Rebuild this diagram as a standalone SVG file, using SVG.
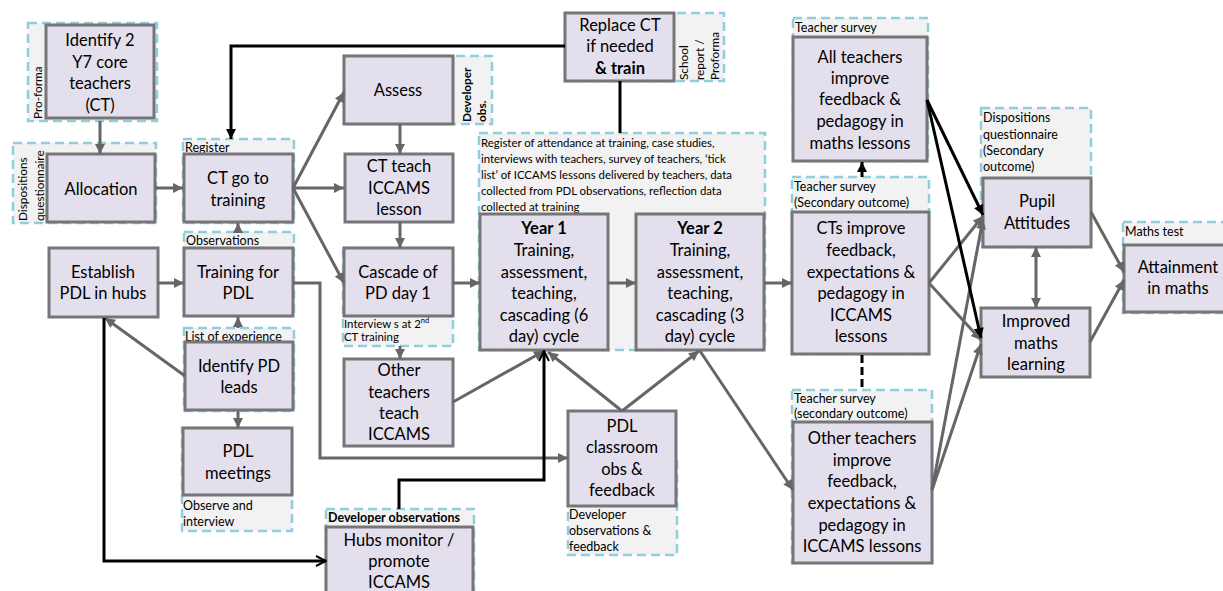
<svg xmlns="http://www.w3.org/2000/svg" width="1223" height="591" viewBox="0 0 1223 591">
<style>
.box{fill:#e4dfec;stroke:#767676;stroke-width:3}
.reg{fill:#f2f2f2;stroke:#92cddc;stroke-width:2.5;stroke-dasharray:9 5}
.t{font-family:Lato,"Liberation Sans",sans-serif;font-size:16.5px;fill:#000;text-anchor:middle}
.s{font-family:Lato,"Liberation Sans",sans-serif;font-size:12.5px;fill:#000}
.v{font-family:Lato,"Liberation Sans",sans-serif;font-size:11.8px;fill:#000}
.n{font-family:Lato,"Liberation Sans",sans-serif;font-size:11.4px;fill:#000}
.b{font-weight:bold}
.c{stroke:#666;stroke-width:3;fill:none}
.k{stroke:#000;stroke-width:3;fill:none}
</style>
<defs>
<marker id="ag" viewBox="0 0 10 10" refX="10" refY="5" markerWidth="11" markerHeight="10" markerUnits="userSpaceOnUse" orient="auto-start-reverse"><path d="M0,0 L10,5 L0,10 z" fill="#666"/></marker>
<marker id="ak" viewBox="0 0 10 10" refX="10" refY="5" markerWidth="11" markerHeight="10" markerUnits="userSpaceOnUse" orient="auto"><path d="M0,0 L10,5 L0,10 z" fill="#000"/></marker>
<marker id="ao" viewBox="0 0 12 12" refX="11" refY="6" markerWidth="12" markerHeight="12" markerUnits="userSpaceOnUse" orient="auto"><path d="M1,1 L11,6 L1,11" fill="none" stroke="#000" stroke-width="2"/></marker>
</defs>
<rect width="1223" height="591" fill="#fff"/>

<g id="identify-ct">
<rect class="reg" x="28" y="23" width="129" height="98"/>
<text class="v" transform="translate(42,119) rotate(-90)">Pro-forma</text>
<rect class="box" x="46" y="25" width="108" height="93"/>
<text class="t" x="100" y="46">Identify 2</text>
<text class="t" x="100" y="68">Y7 core</text>
<text class="t" x="100" y="89">teachers</text>
<text class="t" x="100" y="111">(CT)</text>
</g>

<g id="allocation">
<rect class="reg" x="13" y="143" width="143" height="80"/>
<text class="v" transform="translate(27,221) rotate(-90)">Dispositions</text>
<text class="v" transform="translate(44,221) rotate(-90)">questionnaire</text>
<rect class="box" x="47" y="154" width="108" height="68"/>
<text class="t" x="101" y="195">Allocation</text>
</g>

<g id="ct-training">
<rect class="reg" x="183" y="139" width="111" height="84"/>
<text class="s" x="185" y="152">Register</text>
<rect class="box" x="184" y="154" width="109" height="68"/>
<text class="t" x="238" y="184">CT go to</text>
<text class="t" x="238" y="206">training</text>
</g>

<g id="training-pdl">
<rect class="reg" x="184" y="232" width="110" height="84"/>
<text class="s" x="186" y="245">Observations</text>
<rect class="box" x="184" y="248" width="109" height="68"/>
<text class="t" x="238" y="278">Training for</text>
<text class="t" x="238" y="299">PDL</text>
</g>

<g id="establish-pdl">
<rect class="box" x="49" y="248" width="109" height="69"/>
<text class="t" x="103" y="278">Establish</text>
<text class="t" x="103" y="299">PDL in hubs</text>
</g>

<g id="identify-pd">
<rect class="reg" x="184" y="328" width="110" height="83"/>
<text class="s" x="185" y="341">List of experience</text>
<rect class="box" x="185" y="342" width="108" height="68"/>
<text class="t" x="239" y="372">Identify PD</text>
<text class="t" x="239" y="393">leads</text>
</g>

<g id="pdl-meetings">
<rect class="reg" x="182" y="428" width="110" height="103"/>
<rect class="box" x="183" y="428" width="109" height="67"/>
<text class="t" x="238" y="457">PDL</text>
<text class="t" x="238" y="479">meetings</text>
<text class="s" x="183" y="510">Observe and</text>
<text class="s" x="183" y="526">interview</text>
</g>

<g id="assess">
<rect class="reg" x="344" y="56" width="148" height="68"/>
<text class="v b" transform="translate(471,122) rotate(-90)">Developer</text>
<text class="v b" transform="translate(486,122) rotate(-90)">obs.</text>
<rect class="box" x="344" y="56" width="109" height="68"/>
<text class="t" x="398" y="96">Assess</text>
</g>

<g id="ct-teach">
<rect class="box" x="345" y="154" width="108" height="68"/>
<text class="t" x="399" y="172">CT teach</text>
<text class="t" x="399" y="194">ICCAMS</text>
<text class="t" x="399" y="215">lesson</text>
</g>

<g id="cascade">
<rect class="reg" x="343" y="248" width="110" height="98"/>
<rect class="box" x="344" y="248" width="109" height="68"/>
<text class="t" x="398" y="278">Cascade of</text>
<text class="t" x="398" y="299">PD day 1</text>
<text class="n" x="344" y="328">Interview s at 2<tspan font-size="7.5" dy="-5">nd</tspan></text>
<text class="n" x="344" y="341">CT training</text>
</g>

<g id="other-teach">
<rect class="box" x="344" y="359" width="109" height="87"/>
<text class="t" x="399" y="376">Other</text>
<text class="t" x="399" y="398">teachers</text>
<text class="t" x="399" y="419">teach</text>
<text class="t" x="399" y="440">ICCAMS</text>
</g>

<g id="data-note">
<rect class="reg" x="479" y="133" width="286" height="217"/>
<text class="n" x="481" y="147">Register of attendance at training, case studies,</text>
<text class="n" x="481" y="163">interviews with teachers, survey of teachers, ‘tick</text>
<text class="n" x="481" y="179">list’ of ICCAMS lessons delivered by teachers, data</text>
<text class="n" x="481" y="195">collected from PDL observations, reflection data</text>
<text class="n" x="481" y="211">collected at training</text>
</g>

<g id="year1">
<rect class="box" x="480" y="214" width="128" height="136"/>
<text class="t b" x="544" y="234">Year 1</text>
<text class="t" x="544" y="256">Training,</text>
<text class="t" x="544" y="278">assessment,</text>
<text class="t" x="544" y="299">teaching,</text>
<text class="t" x="544" y="321">cascading (6</text>
<text class="t" x="544" y="342">day) cycle</text>
</g>

<g id="year2">
<rect class="box" x="636" y="214" width="128" height="136"/>
<text class="t b" x="700" y="234">Year 2</text>
<text class="t" x="700" y="256">Training,</text>
<text class="t" x="700" y="278">assessment,</text>
<text class="t" x="700" y="299">teaching,</text>
<text class="t" x="700" y="321">cascading (3</text>
<text class="t" x="700" y="342">day) cycle</text>
</g>

<g id="replace-ct">
<rect class="reg" x="565" y="13" width="159" height="68"/>
<text class="v" transform="translate(688,80) rotate(-90)">School</text>
<text class="v" transform="translate(704,80) rotate(-90)">report /</text>
<text class="v" transform="translate(719,80) rotate(-90)">Proforma</text>
<rect class="box" x="565" y="13" width="109" height="68"/>
<text class="t" x="620" y="31">Replace CT</text>
<text class="t" x="620" y="52">if needed</text>
<text class="t b" x="620" y="74">&amp; train</text>
</g>

<g id="all-teachers">
<rect class="reg" x="793" y="18" width="135" height="143"/>
<text class="s" x="795" y="32">Teacher survey</text>
<rect class="box" x="793" y="37" width="134" height="124"/>
<text class="t" x="860" y="63">All teachers</text>
<text class="t" x="860" y="84">improve</text>
<text class="t" x="860" y="105">feedback &amp;</text>
<text class="t" x="860" y="127">pedagogy in</text>
<text class="t" x="860" y="149">maths lessons</text>
</g>

<g id="cts-improve">
<rect class="reg" x="792" y="177" width="137" height="177"/>
<text class="s" x="794" y="191">Teacher survey</text>
<text class="s" x="794" y="207">(Secondary outcome)</text>
<rect class="box" x="792" y="212" width="137" height="142"/>
<text class="t" x="861" y="234">CTs improve</text>
<text class="t" x="861" y="256">feedback,</text>
<text class="t" x="861" y="278">expectations &amp;</text>
<text class="t" x="861" y="299">pedagogy in</text>
<text class="t" x="861" y="321">ICCAMS</text>
<text class="t" x="861" y="342">lessons</text>
</g>

<g id="other-improve">
<rect class="reg" x="792" y="390" width="140" height="173"/>
<text class="s" x="794" y="403">Teacher survey</text>
<text class="s" x="794" y="418">(secondary outcome)</text>
<rect class="box" x="793" y="422" width="139" height="141"/>
<text class="t" x="862" y="444">Other teachers</text>
<text class="t" x="862" y="466">improve</text>
<text class="t" x="862" y="487">feedback,</text>
<text class="t" x="862" y="509">expectations &amp;</text>
<text class="t" x="862" y="531">pedagogy in</text>
<text class="t" x="862" y="552">ICCAMS lessons</text>
</g>

<g id="pupil-attitudes">
<rect class="reg" x="981" y="108" width="110" height="139"/>
<text class="s" x="983" y="122">Dispositions</text>
<text class="s" x="983" y="139">questionnaire</text>
<text class="s" x="983" y="155">(Secondary</text>
<text class="s" x="983" y="171">outcome)</text>
<rect class="box" x="983" y="178" width="108" height="69"/>
<text class="t" x="1037" y="207">Pupil</text>
<text class="t" x="1037" y="229">Attitudes</text>
</g>

<g id="improved-learning">
<rect class="box" x="981" y="308" width="109" height="69"/>
<text class="t" x="1036" y="327">Improved</text>
<text class="t" x="1036" y="349">maths</text>
<text class="t" x="1036" y="370">learning</text>
</g>

<g id="attainment">
<rect class="reg" x="1123" y="222" width="110" height="91"/>
<text class="s" x="1125" y="236">Maths test</text>
<rect class="box" x="1124" y="245" width="108" height="67"/>
<text class="t" x="1178" y="273">Attainment</text>
<text class="t" x="1178" y="294">in maths</text>
</g>

<g id="pdl-classroom">
<rect class="reg" x="568" y="457" width="109" height="98"/>
<rect class="box" x="568" y="411" width="108" height="95"/>
<text class="t" x="622" y="432">PDL</text>
<text class="t" x="622" y="453">classroom</text>
<text class="t" x="622" y="475">obs &amp;</text>
<text class="t" x="622" y="496">feedback</text>
<text class="s" x="569" y="519">Developer</text>
<text class="s" x="569" y="535">observations &amp;</text>
<text class="s" x="569" y="551">feedback</text>
</g>

<g id="hubs-monitor">
<rect class="reg" x="326" y="509" width="148" height="95"/>
<text class="s b" x="328" y="522">Developer observations</text>
<rect class="box" x="326" y="527" width="147" height="75"/>
<text class="t" x="399" y="546">Hubs monitor /</text>
<text class="t" x="399" y="567">promote</text>
<text class="t" x="399" y="588">ICCAMS</text>
</g>

<g id="connectors">
<path class="c" d="M100,121 L100,154" marker-end="url(#ag)"/>
<path class="c" d="M155,188 L183,188" marker-end="url(#ag)"/>
<path class="c" d="M293,188 L344,92" marker-end="url(#ag)"/>
<path class="c" d="M293,188 L344,188" marker-end="url(#ag)"/>
<path class="c" d="M293,188 L344,283" marker-end="url(#ag)"/>
<path class="c" d="M400,124 L400,154" marker-end="url(#ag)"/>
<path class="c" d="M400,222 L400,248" marker-end="url(#ag)"/>
<path class="c" d="M400,346 L400,359" marker-end="url(#ag)"/>
<path class="c" d="M453,283 L480,283" marker-end="url(#ag)"/>
<path class="c" d="M608,283 L636,283" marker-end="url(#ag)"/>
<path class="c" d="M764,283 L792,283" marker-end="url(#ag)"/>
<path class="c" d="M158,283 L184,283" marker-end="url(#ag)"/>
<path class="c" d="M238,232 L238,223" marker-end="url(#ag)"/>
<path class="c" d="M238,328 L238,317" marker-end="url(#ag)"/>
<path class="c" d="M238,411 L238,428" marker-end="url(#ag)"/>
<path class="c" d="M185,376 L105,318" marker-end="url(#ag)"/>
<path class="c" d="M293,283 L320,283 L320,458 L568,458" marker-end="url(#ag)"/>
<path class="k" d="M104,318 L104,561 L326,561" marker-end="url(#ao)"/>
<path class="k" d="M565,46 L231,46 L231,139" marker-end="url(#ak)"/>
<path class="k" d="M620,81 L620,133"/>
<path class="c" d="M453,402 L544,351" marker-end="url(#ag)"/>
<path class="k" d="M399,509 L399,480 L544,480 L544,351" marker-end="url(#ao)"/>
<path class="c" d="M622,411 L548,352" marker-end="url(#ag)"/>
<path class="c" d="M622,411 L699,351" marker-end="url(#ag)"/>
<path class="c" d="M700,351 L793,490" marker-end="url(#ag)"/>
<path class="k" d="M862,177 L862,162" marker-end="url(#ak)"/>
<path class="k" d="M862,355 L862,390" stroke-dasharray="8 4"/>
<path class="c" d="M929,283 L983,216" marker-end="url(#ag)"/>
<path class="c" d="M929,283 L981,340" marker-end="url(#ag)"/>
<path class="c" d="M932,490 L983,219" marker-end="url(#ag)"/>
<path class="c" d="M932,490 L981,344" marker-end="url(#ag)"/>
<path class="k" d="M927,100 L983,215" marker-end="url(#ak)"/>
<path class="k" d="M927,100 L981,338" marker-end="url(#ak)"/>
<path class="c" d="M1036,247 L1036,308" marker-start="url(#ag)" marker-end="url(#ag)"/>
<path class="c" d="M1091,212 L1124,272" marker-end="url(#ag)"/>
<path class="c" d="M1090,342 L1124,280" marker-end="url(#ag)"/>
</g>
</svg>
